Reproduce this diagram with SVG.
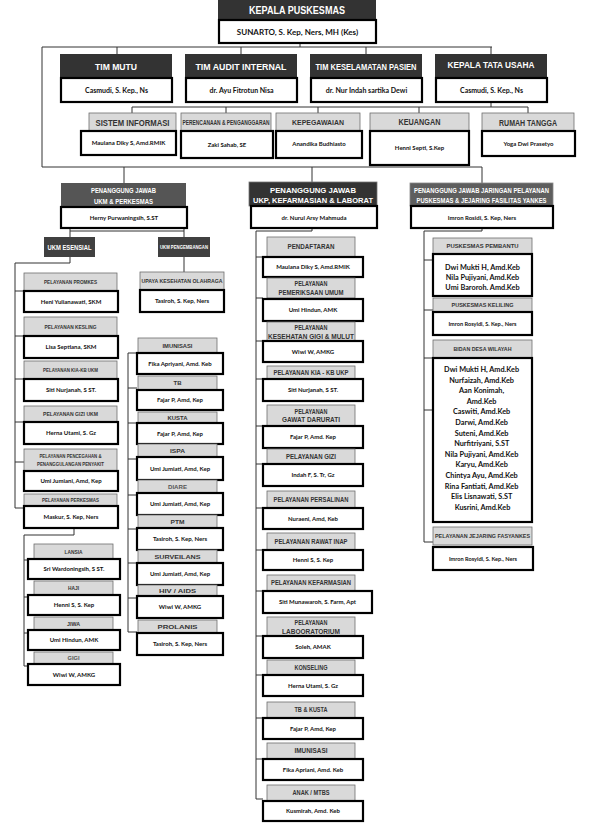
<svg xmlns="http://www.w3.org/2000/svg" width="594" height="823" viewBox="0 0 594 823">
<style>
.dk{fill:#333}
.lt{fill:#d9d9d9;stroke:#6e6e6e;stroke-width:0.8}
.nm{fill:#fff;stroke:#000;stroke-width:2.2}
.ln{stroke:#333;stroke-width:1;fill:none}
.h{font-family:"Liberation Sans",Arial,sans-serif;font-weight:bold;text-anchor:middle}
.w{fill:#fff}
.g{fill:#333}
.n{font-family:Lato,"Liberation Sans",Arial,sans-serif;font-weight:bold;text-anchor:middle;fill:#111}
</style>
<rect width="594" height="823" fill="#fff"/>

<g id="connectors" class="ln">
<path d="M300 43V47M42 47H492M117 47V54M241 47V54M366 47V54M491 47V54"/>
<path d="M42 47V167H482M124 167V183M312 167V182M482 167V183"/>
<path d="M491 102V107M132 107H528M132 107V113M226 107V113M318 107V113M419 107V113M528 107V113"/>
<path d="M70 228V237M184 228V237M70 231H184"/>
<path d="M70 257V263H15V508M15 291H24M15 336H24M15 379H24M15 422H24M15 462H24M15 508H24"/>
<path d="M74 528V535H24V666M24 560H28M24 597H28M24 633H28M24 666H28"/>
<path d="M184 257V272"/>
<path d="M128 353V632M128 353H137M128 388H137M128 423H137M128 459H137M128 495H137M128 529H137M128 563H137M128 598H137M128 632H137"/>
<path d="M312 228V231H256V799M256 257H263M256 298H263M256 341H263M256 379H263M256 426H263M256 464H263M256 508H263M256 550H263M256 591H263M256 636H263M256 675H263M256 718H263M256 759H263M256 799H263"/>
<path d="M482 228V231H424V542M424 260H433M424 310H433M424 358H433M424 410H433M424 542H433"/>
</g>

<g id="kepala-puskesmas">
<rect x="218" y="0" width="158" height="20" class="dk"/>
<text x="297" y="14" class="h w" font-size="11" textLength="96" lengthAdjust="spacingAndGlyphs">KEPALA PUSKESMAS</text>
<rect x="219" y="20" width="157" height="23" class="nm"/>
<text x="297.5" y="34.5" class="n" font-size="8">SUNARTO, S. Kep, Ners, MH (Kes)</text>
</g>

<g id="tim-mutu">
<rect x="60" y="54" width="112" height="24" class="dk"/>
<text x="116" y="69.5" class="h w" font-size="9.5" textLength="42" lengthAdjust="spacingAndGlyphs">TIM MUTU</text>
<rect x="61" y="78" width="111" height="24" class="nm"/>
<text x="116.5" y="92.5" class="n" font-size="7">Casmudi, S. Kep., Ns</text>
</g>
<g id="tim-audit">
<rect x="185" y="54" width="112" height="24" class="dk"/>
<text x="241" y="69.5" class="h w" font-size="9.5" textLength="91" lengthAdjust="spacingAndGlyphs">TIM AUDIT INTERNAL</text>
<rect x="186" y="78" width="111" height="24" class="nm"/>
<text x="241.5" y="92.5" class="n" font-size="7">dr. Ayu Fitrotun Nisa</text>
</g>
<g id="tim-keselamatan">
<rect x="310" y="54" width="112" height="24" class="dk"/>
<text x="366" y="69.5" class="h w" font-size="9.5" textLength="101" lengthAdjust="spacingAndGlyphs">TIM KESELAMATAN PASIEN</text>
<rect x="311" y="78" width="111" height="24" class="nm"/>
<text x="366.5" y="92.5" class="n" font-size="7">dr. Nur Indah sartika Dewi</text>
</g>
<g id="kepala-tata-usaha">
<rect x="435" y="54" width="112" height="24" class="dk"/>
<text x="491" y="67.5" class="h w" font-size="9.5" textLength="87" lengthAdjust="spacingAndGlyphs">KEPALA TATA USAHA</text>
<rect x="436" y="78" width="111" height="24" class="nm"/>
<text x="491.5" y="92.5" class="n" font-size="7">Casmudi, S. Kep., Ns</text>
</g>

<g id="sistem-informasi">
<rect x="89" y="113" width="87" height="18" class="lt"/>
<text x="132.5" y="126" class="h g" font-size="9.5" textLength="74" lengthAdjust="spacingAndGlyphs">SISTEM INFORMASI</text>
<rect x="81" y="131" width="95" height="24" class="nm"/>
<text x="128.5" y="145" class="n" font-size="6">Maulana Diky S, Amd.RMIK</text>
</g>
<g id="perencanaan">
<rect x="181" y="113" width="90" height="18" class="lt"/>
<text x="226" y="124.5" class="h g" font-size="6.3" textLength="87" lengthAdjust="spacingAndGlyphs">PERENCANAAN &amp; PENGANGGARAN</text>
<rect x="181" y="131" width="92" height="27" class="nm"/>
<text x="227" y="147" class="n" font-size="6">Zaki Sahab, SE</text>
</g>
<g id="kepegawaian">
<rect x="276" y="113" width="84" height="18" class="lt"/>
<text x="318" y="125" class="h g" font-size="7.5" textLength="52" lengthAdjust="spacingAndGlyphs">KEPEGAWAIAN</text>
<rect x="276" y="131" width="86" height="27" class="nm"/>
<text x="319" y="146" class="n" font-size="6">Anandika Budhiasto</text>
</g>
<g id="keuangan">
<rect x="370" y="113" width="99" height="18" class="lt"/>
<text x="419.5" y="125" class="h g" font-size="8.5" textLength="42" lengthAdjust="spacingAndGlyphs">KEUANGAN</text>
<rect x="370" y="131" width="99" height="34" class="nm"/>
<text x="419.5" y="150" class="n" font-size="6">Henni Septi, S.Kep</text>
</g>
<g id="rumah-tangga">
<rect x="482" y="113" width="92" height="18" class="lt"/>
<text x="528" y="125.5" class="h g" font-size="8.5" textLength="58" lengthAdjust="spacingAndGlyphs">RUMAH TANGGA</text>
<rect x="482" y="131" width="93" height="25" class="nm"/>
<text x="528.5" y="145.5" class="n" font-size="6">Yoga Dwi Prasetyo</text>
</g>

<g id="pj-ukm">
<rect x="61" y="183" width="125" height="24" fill="#555"/>
<text x="123.5" y="193" class="h w" font-size="7" textLength="65" lengthAdjust="spacingAndGlyphs">PENANGGUNG JAWAB</text>
<text x="123.5" y="203.5" class="h w" font-size="7" textLength="59" lengthAdjust="spacingAndGlyphs">UKM &amp; PERKESMAS</text>
<rect x="61" y="207" width="126" height="21" class="nm"/>
<text x="124" y="220" class="n" font-size="6">Herny Purwaningsih, S.ST</text>
</g>
<g id="pj-ukp">
<rect x="249" y="182" width="128" height="24" class="dk" stroke="#777" stroke-width="0.8"/>
<text x="313" y="192.5" class="h w" font-size="8" textLength="86" lengthAdjust="spacingAndGlyphs">PENANGGUNG JAWAB</text>
<text x="313" y="203" class="h w" font-size="8" textLength="120" lengthAdjust="spacingAndGlyphs">UKP, KEFARMASIAN &amp; LABORAT</text>
<rect x="251" y="206" width="126" height="22" class="nm"/>
<text x="314" y="219.5" class="n" font-size="6">dr. Nurul Arsy Mahmuda</text>
</g>
<g id="pj-jaringan">
<rect x="410" y="183" width="143" height="23" fill="#5e5e5e" stroke="#888" stroke-width="0.8"/>
<text x="481.5" y="192.5" class="h w" font-size="6.5" textLength="135" lengthAdjust="spacingAndGlyphs">PENANGGUNG JAWAB JARINGAN PELAYANAN</text>
<text x="481.5" y="202.5" class="h w" font-size="6.5" textLength="130" lengthAdjust="spacingAndGlyphs">PUSKESMAS &amp; JEJARING FASILITAS YANKES</text>
<rect x="411" y="206" width="142" height="22" class="nm"/>
<text x="482" y="219.5" class="n" font-size="6">Imron Rosidi, S. Kep, Ners</text>
</g>

<g id="ukm-esensial">
<rect x="44" y="237" width="51" height="20" fill="#404040"/>
<text x="69.5" y="249.5" class="h w" font-size="7" textLength="44" lengthAdjust="spacingAndGlyphs">UKM ESENSIAL</text>
</g>
<g id="promkes">
<rect x="24" y="273" width="93" height="18" class="lt"/>
<text x="70.5" y="284.2" class="h g" font-size="6" textLength="53" lengthAdjust="spacingAndGlyphs">PELAYANAN PROMKES</text>
<rect x="24" y="291" width="94" height="21" class="nm"/>
<text x="71" y="303.6" class="n" font-size="6">Heni Yulianawati, SKM</text>
</g>
<g id="kesling">
<rect x="24" y="317" width="93" height="19" class="lt"/>
<text x="70.5" y="328.7" class="h g" font-size="6" textLength="52" lengthAdjust="spacingAndGlyphs">PELAYANAN KESLING</text>
<rect x="24" y="336" width="94" height="22" class="nm"/>
<text x="71" y="349" class="n" font-size="6">Lisa Septiana, SKM</text>
</g>
<g id="kia-kb-ukm">
<rect x="24" y="361" width="93" height="18" class="lt"/>
<text x="70.5" y="372.2" class="h g" font-size="6" textLength="55" lengthAdjust="spacingAndGlyphs">PELAYANAN KIA-KB UKM</text>
<rect x="24" y="379" width="94" height="22" class="nm"/>
<text x="71" y="392" class="n" font-size="6">Siti Nurjanah, S ST.</text>
</g>
<g id="gizi-ukm">
<rect x="24" y="406" width="93" height="16" class="lt"/>
<text x="70.5" y="416.2" class="h g" font-size="6" textLength="55" lengthAdjust="spacingAndGlyphs">PELAYANAN GIZI UKM</text>
<rect x="24" y="422" width="94" height="22" class="nm"/>
<text x="71" y="435" class="n" font-size="6">Herna Utami, S. Gz</text>
</g>
<g id="pencegahan">
<rect x="24" y="449" width="93" height="22" class="lt"/>
<text x="70.5" y="458" class="h g" font-size="5.5" textLength="62" lengthAdjust="spacingAndGlyphs">PELAYANAN PENCEGAHAN &amp;</text>
<text x="70.5" y="466" class="h g" font-size="5.5" textLength="67" lengthAdjust="spacingAndGlyphs">PENANGGULANGAN PENYAKIT</text>
<rect x="24" y="471" width="94" height="20" class="nm"/>
<text x="71" y="483" class="n" font-size="6">Umi Jumiani, Amd, Kep</text>
</g>
<g id="perkesmas">
<rect x="24" y="494" width="93" height="12" class="lt"/>
<text x="70.5" y="502.2" class="h g" font-size="6" textLength="57" lengthAdjust="spacingAndGlyphs">PELAYANAN PERKESMAS</text>
<rect x="24" y="506" width="94" height="22" class="nm"/>
<text x="71" y="519" class="n" font-size="6">Maskur, S. Kep, Ners</text>
</g>
<g id="lansia">
<rect x="34" y="544" width="79" height="15" class="lt"/>
<text x="73.5" y="553.6" class="h g" font-size="6" textLength="18" lengthAdjust="spacingAndGlyphs">LANSIA</text>
<rect x="28" y="559" width="92" height="20" class="nm"/>
<text x="74" y="571.1" class="n" font-size="6">Sri Wardoningsih, S ST.</text>
</g>
<g id="haji">
<rect x="34" y="581" width="79" height="14" class="lt"/>
<text x="73.5" y="590.1" class="h g" font-size="6" textLength="11" lengthAdjust="spacingAndGlyphs">HAJI</text>
<rect x="28" y="595" width="92" height="20" class="nm"/>
<text x="74" y="607.1" class="n" font-size="6">Henni S, S. Kep</text>
</g>
<g id="jiwa">
<rect x="34" y="617" width="79" height="13" class="lt"/>
<text x="73.5" y="625.6" class="h g" font-size="6" textLength="13" lengthAdjust="spacingAndGlyphs">JIWA</text>
<rect x="28" y="630" width="92" height="20" class="nm"/>
<text x="74" y="642.1" class="n" font-size="6">Umi Hindun, AMK</text>
</g>
<g id="gigi">
<rect x="34" y="652" width="79" height="12" class="lt"/>
<text x="73.5" y="660.1" class="h" fill="#555" font-size="6" textLength="12" lengthAdjust="spacingAndGlyphs">GIGI</text>
<rect x="28" y="664" width="92" height="21" class="nm"/>
<text x="74" y="676.6" class="n" font-size="6">Wiwi W, AMKG</text>
</g>

<g id="ukm-pengembangan">
<rect x="158" y="237" width="52" height="20" fill="#404040"/>
<text x="184" y="249" class="h w" font-size="6" textLength="48" lengthAdjust="spacingAndGlyphs">UKM PENGEMBANGAN</text>
</g>
<g id="upaya-olahraga">
<rect x="140" y="272" width="84" height="18" class="lt"/>
<text x="182" y="283.3" class="h g" font-size="6" textLength="81" lengthAdjust="spacingAndGlyphs">UPAYA KESEHATAN OLAHRAGA</text>
<rect x="140" y="290" width="84" height="22" class="nm"/>
<text x="182" y="303.1" class="n" font-size="6">Tasiroh, S. Kep, Ners</text>
</g>
<g id="imunisasi-ukm">
<rect x="138" y="338" width="79" height="15" class="lt"/>
<text x="177.5" y="347.6" class="h g" font-size="6" textLength="30" lengthAdjust="spacingAndGlyphs">IMUNISASI</text>
<rect x="137" y="353" width="86" height="21" class="nm"/>
<text x="180" y="365.6" class="n" font-size="6">Fika Apriyani, Amd. Keb</text>
</g>
<g id="tb">
<rect x="138" y="376" width="79" height="14" class="lt"/>
<text x="177.5" y="385.1" class="h g" font-size="6" textLength="8" lengthAdjust="spacingAndGlyphs">TB</text>
<rect x="137" y="390" width="86" height="20" class="nm"/>
<text x="180" y="402.1" class="n" font-size="6">Fajar P, Amd, Kep</text>
</g>
<g id="kusta">
<rect x="138" y="412" width="79" height="11" class="lt"/>
<text x="177.5" y="419.6" class="h g" font-size="6" textLength="20" lengthAdjust="spacingAndGlyphs">KUSTA</text>
<rect x="137" y="423" width="86" height="21" class="nm"/>
<text x="180" y="435.6" class="n" font-size="6">Fajar P, Amd, Kep</text>
</g>
<g id="ispa">
<rect x="138" y="444" width="79" height="13" class="lt"/>
<text x="177.5" y="452.6" class="h g" font-size="6" textLength="15" lengthAdjust="spacingAndGlyphs">ISPA</text>
<rect x="137" y="457" width="86" height="23" class="nm"/>
<text x="180" y="470.6" class="n" font-size="6">Umi Jumiati, Amd, Kep</text>
</g>
<g id="diare">
<rect x="138" y="480" width="79" height="13" class="lt"/>
<text x="177.5" y="488.6" class="h" fill="#555" font-size="6" textLength="19" lengthAdjust="spacingAndGlyphs">DIARE</text>
<rect x="137" y="493" width="86" height="22" class="nm"/>
<text x="180" y="506.1" class="n" font-size="6">Umi Jumiati, Amd, Kep</text>
</g>
<g id="ptm">
<rect x="138" y="515" width="79" height="13" class="lt"/>
<text x="177.5" y="523.6" class="h g" font-size="6" textLength="14" lengthAdjust="spacingAndGlyphs">PTM</text>
<rect x="137" y="528" width="86" height="22" class="nm"/>
<text x="180" y="541.1" class="n" font-size="6">Tasiroh, S. Kep, Ners</text>
</g>
<g id="surveilans">
<rect x="138" y="550" width="79" height="13" class="lt"/>
<text x="177.5" y="558.6" class="h g" font-size="6" textLength="46" lengthAdjust="spacingAndGlyphs">SURVEILANS</text>
<rect x="137" y="563" width="86" height="22" class="nm"/>
<text x="180" y="576.1" class="n" font-size="6">Umi Jumiati, Amd, Kep</text>
</g>
<g id="hiv-aids">
<rect x="138" y="585" width="79" height="11" class="lt"/>
<text x="177.5" y="592.6" class="h g" font-size="6" textLength="37" lengthAdjust="spacingAndGlyphs">HIV / AIDS</text>
<rect x="137" y="596" width="86" height="22" class="nm"/>
<text x="180" y="609.1" class="n" font-size="6">Wiwi W, AMKG</text>
</g>
<g id="prolanis">
<rect x="138" y="620" width="79" height="13" class="lt"/>
<text x="177.5" y="628.6" class="h g" font-size="6" textLength="40" lengthAdjust="spacingAndGlyphs">PROLANIS</text>
<rect x="137" y="633" width="86" height="22" class="nm"/>
<text x="180" y="646.1" class="n" font-size="6">Tasiroh, S. Kep, Ners</text>
</g>

<g id="pendaftaran">
<rect x="267" y="237" width="88" height="20" class="lt"/>
<text x="311" y="249.3" class="h g" font-size="6.5" textLength="47" lengthAdjust="spacingAndGlyphs">PENDAFTARAN</text>
<rect x="263" y="257" width="100" height="20" class="nm"/>
<text x="313" y="269.1" class="n" font-size="6">Maulana Diky S, Amd.RMIK</text>
</g>
<g id="pemeriksaan-umum">
<rect x="267" y="278" width="88" height="20" class="lt"/>
<text x="311" y="286" class="h g" font-size="6.5" textLength="33" lengthAdjust="spacingAndGlyphs">PELAYANAN</text>
<text x="311" y="294.5" class="h g" font-size="6.5" textLength="65" lengthAdjust="spacingAndGlyphs">PEMERIKSAAN UMUM</text>
<rect x="263" y="299" width="100" height="22" class="nm"/>
<text x="313" y="312.1" class="n" font-size="6">Umi Hindun, AMK</text>
</g>
<g id="gigi-mulut">
<rect x="267" y="322" width="88" height="19" class="lt"/>
<text x="311" y="330" class="h g" font-size="6.5" textLength="33" lengthAdjust="spacingAndGlyphs">PELAYANAN</text>
<text x="311" y="338.5" class="h g" font-size="6.5" textLength="86" lengthAdjust="spacingAndGlyphs">KESEHATAN GIGI &amp; MULUT</text>
<rect x="263" y="341" width="100" height="21" class="nm"/>
<text x="313" y="353.6" class="n" font-size="6">Wiwi W, AMKG</text>
</g>
<g id="kia-kb-ukp">
<rect x="267" y="366" width="88" height="13" class="lt"/>
<text x="311" y="374.8" class="h g" font-size="6.5" textLength="75" lengthAdjust="spacingAndGlyphs">PELAYANAN KIA - KB UKP</text>
<rect x="263" y="379" width="100" height="22" class="nm"/>
<text x="313" y="392.1" class="n" font-size="6">Siti Nurjanah, S ST.</text>
</g>
<g id="gawat-darurat">
<rect x="267" y="405" width="88" height="21" class="lt"/>
<text x="311" y="413.5" class="h g" font-size="6.5" textLength="33" lengthAdjust="spacingAndGlyphs">PELAYANAN</text>
<text x="311" y="422" class="h g" font-size="6.5" textLength="58" lengthAdjust="spacingAndGlyphs">GAWAT DARURATI</text>
<rect x="263" y="426" width="100" height="22" class="nm"/>
<text x="313" y="439.1" class="n" font-size="6">Fajar P, Amd. Kep</text>
</g>
<g id="gizi">
<rect x="267" y="449" width="88" height="15" class="lt"/>
<text x="311" y="458.8" class="h g" font-size="6.5" textLength="50" lengthAdjust="spacingAndGlyphs">PELAYANAN GIZI</text>
<rect x="263" y="464" width="100" height="22" class="nm"/>
<text x="313" y="477.1" class="n" font-size="6">Indah F, S. Tr, Gz</text>
</g>
<g id="persalinan">
<rect x="267" y="491" width="88" height="17" class="lt"/>
<text x="311" y="501.8" class="h g" font-size="6.5" textLength="75" lengthAdjust="spacingAndGlyphs">PELAYANAN PERSALINAN</text>
<rect x="263" y="508" width="100" height="21" class="nm"/>
<text x="313" y="520.6" class="n" font-size="6">Nuraeni, Amd, Keb</text>
</g>
<g id="rawat-inap">
<rect x="267" y="533" width="88" height="17" class="lt"/>
<text x="311" y="543.8" class="h g" font-size="6.5" textLength="73" lengthAdjust="spacingAndGlyphs">PELAYANAN RAWAT INAP</text>
<rect x="263" y="550" width="100" height="20" class="nm"/>
<text x="313" y="562.1" class="n" font-size="6">Henni S, S. Kep</text>
</g>
<g id="kefarmasian">
<rect x="267" y="575" width="88" height="16" class="lt"/>
<text x="311" y="585.3" class="h g" font-size="6.5" textLength="80" lengthAdjust="spacingAndGlyphs">PELAYANAN KEFARMASIAN</text>
<rect x="263" y="591" width="109" height="22" class="nm"/>
<text x="317.5" y="604.1" class="n" font-size="6">Siti Munawaroh, S. Farm, Apt</text>
</g>
<g id="laboratorium">
<rect x="267" y="617" width="88" height="19" class="lt"/>
<text x="311" y="625" class="h g" font-size="6.5" textLength="33" lengthAdjust="spacingAndGlyphs">PELAYANAN</text>
<text x="311" y="633.5" class="h g" font-size="6.5" textLength="58" lengthAdjust="spacingAndGlyphs">LABOORATORIUM</text>
<rect x="263" y="636" width="100" height="22" class="nm"/>
<text x="313" y="649.1" class="n" font-size="6">Soleh, AMAK</text>
</g>
<g id="konseling">
<rect x="267" y="660" width="88" height="15" class="lt"/>
<text x="311" y="669.8" class="h g" font-size="6.5" textLength="33" lengthAdjust="spacingAndGlyphs">KONSELING</text>
<rect x="263" y="675" width="100" height="21" class="nm"/>
<text x="313" y="687.6" class="n" font-size="6">Herna Utami, S. Gz</text>
</g>
<g id="tb-kusta">
<rect x="267" y="702" width="88" height="16" class="lt"/>
<text x="311" y="712.3" class="h g" font-size="6.5" textLength="33" lengthAdjust="spacingAndGlyphs">TB &amp; KUSTA</text>
<rect x="263" y="718" width="100" height="21" class="nm"/>
<text x="313" y="730.6" class="n" font-size="6">Fajar P, Amd, Kep</text>
</g>
<g id="imunisasi-ukp">
<rect x="267" y="743" width="88" height="16" class="lt"/>
<text x="311" y="753.3" class="h g" font-size="6.5" textLength="33" lengthAdjust="spacingAndGlyphs">IMUNISASI</text>
<rect x="263" y="759" width="100" height="21" class="nm"/>
<text x="313" y="771.6" class="n" font-size="6">Fika Apriani, Amd. Keb</text>
</g>
<g id="anak-mtbs">
<rect x="267" y="785" width="88" height="16" class="lt"/>
<text x="311" y="795.3" class="h g" font-size="6.5" textLength="37" lengthAdjust="spacingAndGlyphs">ANAK / MTBS</text>
<rect x="263" y="801" width="100" height="20" class="nm"/>
<text x="313" y="813.1" class="n" font-size="6">Kusmirah, Amd. Keb</text>
</g>

<g id="puskesmas-pembantu">
<rect x="433" y="238" width="99" height="16" class="lt"/>
<text x="482.5" y="248.1" class="h g" font-size="6" textLength="72" lengthAdjust="spacingAndGlyphs">PUSKESMAS PEMBANTU</text>
<rect x="433" y="254" width="99" height="42" class="nm"/>
<text x="482.5" y="269.5" class="n" font-size="7.3">Dwi Mukti H, Amd.Keb</text>
<text x="482.5" y="279.8" class="n" font-size="7.3">Nila Pujiyani, Amd.Keb</text>
<text x="482.5" y="290.2" class="n" font-size="7.3">Umi Baroroh. Amd.Keb</text>
</g>
<g id="puskesmas-keliling">
<rect x="433" y="298" width="99" height="14" class="lt"/>
<text x="482.5" y="307.1" class="h g" font-size="6" textLength="62" lengthAdjust="spacingAndGlyphs">PUSKESMAS KELILING</text>
<rect x="433" y="312" width="99" height="23" class="nm"/>
<text x="482.5" y="325.5" class="n" font-size="5.6">Imron Rosyidi, S. Kep., Ners</text>
</g>
<g id="bidan-desa">
<rect x="433" y="340" width="99" height="18" class="lt"/>
<text x="482.5" y="351.1" class="h g" font-size="6" textLength="58" lengthAdjust="spacingAndGlyphs">BIDAN DESA WILAYAH</text>
<rect x="433" y="358" width="99" height="164" class="nm"/>
<text class="n" font-size="7.3">
<tspan x="482.5" y="372">Dwi Mukti H, Amd.Keb</tspan>
<tspan x="482.5" y="382.6">Nurfaizah, Amd.Keb</tspan>
<tspan x="482.5" y="393.2">Aan Konimah,</tspan>
<tspan x="482.5" y="403.8">Amd.Keb</tspan>
<tspan x="482.5" y="414.4">Caswiti, Amd.Keb</tspan>
<tspan x="482.5" y="425">Darwi, Amd.Keb</tspan>
<tspan x="482.5" y="435.6">Suteni, Amd.Keb</tspan>
<tspan x="482.5" y="446.2">Nurfitriyani, S.ST</tspan>
<tspan x="482.5" y="456.8">Nila Pujiyani, Amd.Keb</tspan>
<tspan x="482.5" y="467.4">Karyu, Amd.Keb</tspan>
<tspan x="482.5" y="478">Chintya Ayu, Amd.Keb</tspan>
<tspan x="482.5" y="488.6">Rina Fantiati, Amd.Keb</tspan>
<tspan x="482.5" y="499.2">Elis Lisnawati, S.ST</tspan>
<tspan x="482.5" y="509.8">Kusrini, Amd.Keb</tspan>
</text>
</g>
<g id="jejaring-fasyankes">
<rect x="433" y="527" width="99" height="18" class="lt"/>
<text x="482.5" y="538.1" class="h g" font-size="6" textLength="95" lengthAdjust="spacingAndGlyphs">PELAYANAN JEJARING FASYANKES</text>
<rect x="433" y="547" width="100" height="23" class="nm"/>
<text x="483" y="560.5" class="n" font-size="5.6">Imron Rosyidi, S. Kep., Ners</text>
</g>
</svg>
